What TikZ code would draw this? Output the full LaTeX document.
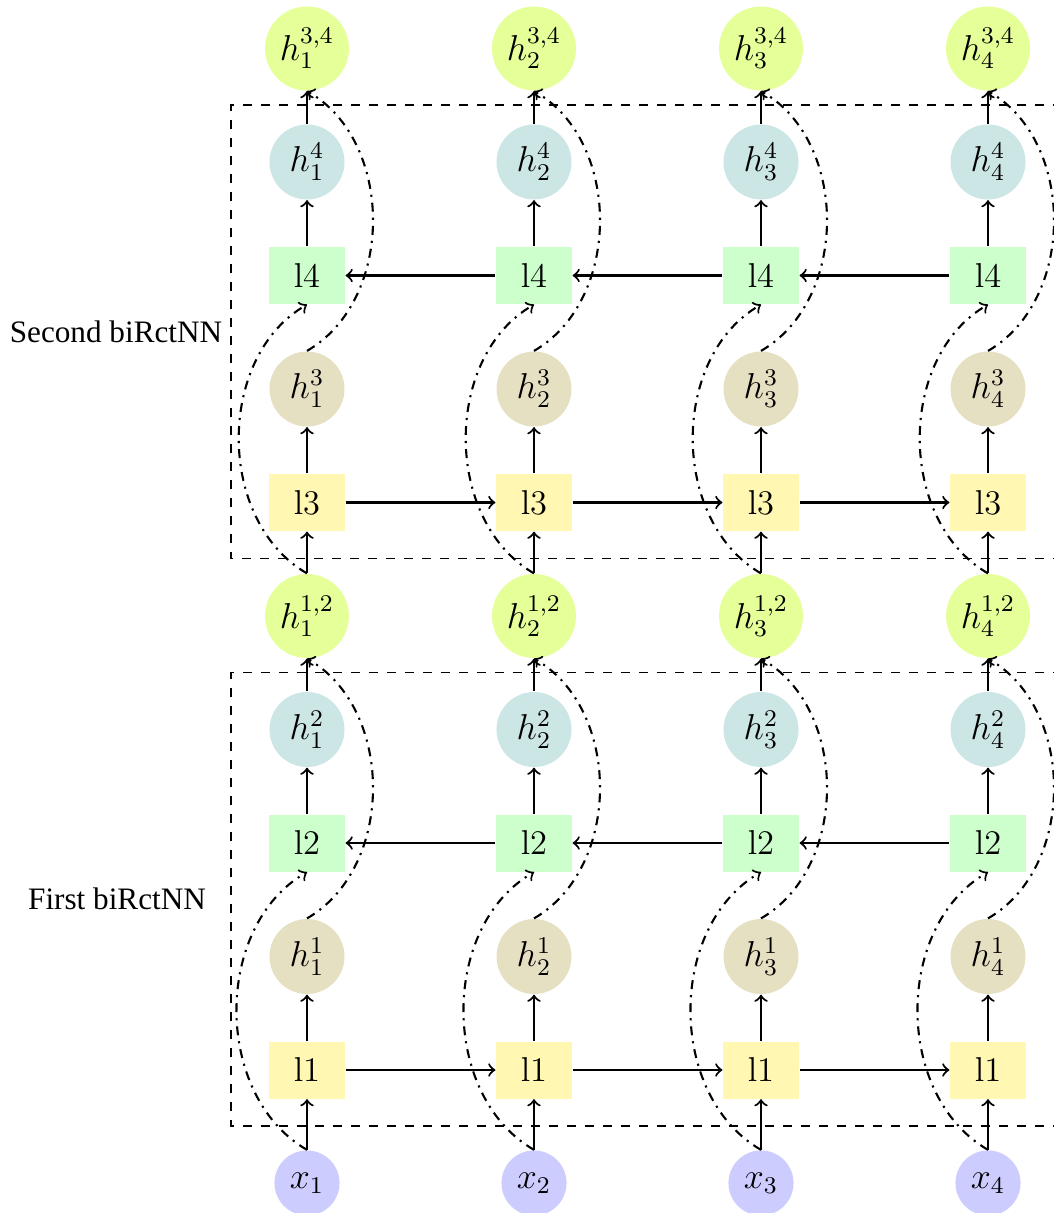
\documentclass[tikz,border=0pt]{standalone}
\usepackage{fontspec}
\newfontfamily\lblfont{Liberation Serif}
\definecolor{cHH}{RGB}{229,255,153}
\definecolor{cHB}{RGB}{204,229,229}
\definecolor{cHC}{RGB}{230,224,194}
\definecolor{cLG}{RGB}{204,255,204}
\definecolor{cLY}{RGB}{255,247,178}
\definecolor{cX}{RGB}{204,204,255}
\begin{document}
\begin{tikzpicture}[x=0.3333pt,y=-0.3333pt,
  font=\fontsize{11.5}{13}\selectfont,
  hhnode/.style={circle, fill=cHH, minimum size=28pt, inner sep=0pt},
  hbnode/.style={circle, fill=cHB, minimum size=25pt, inner sep=0pt},
  hcnode/.style={circle, fill=cHC, minimum size=25pt, inner sep=0pt},
  lgbox/.style={rectangle, fill=cLG, minimum width=25.3pt, minimum height=19pt, inner sep=0pt},
  lybox/.style={rectangle, fill=cLY, minimum width=25.3pt, minimum height=19pt, inner sep=0pt},
  xnode/.style={circle, fill=cX, minimum size=21.7pt, inner sep=0pt},
  arr/.style={->, line width=0.7pt},
  dcurve/.style={->, line width=0.7pt, dashdotted},
  frame/.style={dashed, line width=0.4pt},
  lbl/.style={font={\fontsize{10.4}{12}\selectfont\lblfont}}]
\useasboundingbox (0,0) rectangle (1054,1213);
% dashed frames
\draw[frame] (1080,105) -- (231,105) -- (231,558.7) -- (1080,558.7);
\draw[frame] (1080,672.7) -- (231,672.7) -- (231,1126) -- (1080,1126);
% nodes
\foreach \i/\X in {1/307,2/534,3/761,4/988}{
  \node[hhnode] (hh34-\i) at (\X,48.5) {$h_{\i}^{3,4}$};
  \node[hbnode] (h4-\i) at (\X,162) {$h_{\i}^{4}$};
  \node[lgbox] (l4-\i) at (\X,275.5) {l4};
  \node[hcnode] (h3-\i) at (\X,389) {$h_{\i}^{3}$};
  \node[lybox] (l3-\i) at (\X,502.5) {l3};
  \node[hhnode] (hh12-\i) at (\X,616) {$h_{\i}^{1,2}$};
  \node[hbnode] (h2-\i) at (\X,729.5) {$h_{\i}^{2}$};
  \node[lgbox] (l2-\i) at (\X,843) {l2};
  \node[hcnode] (h1-\i) at (\X,956.5) {$h_{\i}^{1}$};
  \node[lybox] (l1-\i) at (\X,1070) {l1};
  \node[xnode] (x-\i) at (\X,1183) {$x_{\i}$};
}
% labels
\node[lbl] (lab2) at (116,332) {Second biRctNN};
\node[lbl] (lab1) at (117,899) {First biRctNN};
% vertical arrows and curves
\foreach \i in {1,...,4}{
  \draw[arr] (x-\i) -- (l1-\i);
  \draw[arr] (l1-\i) -- (h1-\i);
  \draw[arr] (l2-\i) -- (h2-\i);
  \draw[arr] (h2-\i) -- (hh12-\i);
  \draw[arr] (hh12-\i) -- (l3-\i);
  \draw[arr] (l3-\i) -- (h3-\i);
  \draw[arr] (l4-\i) -- (h4-\i);
  \draw[arr] (h4-\i) -- (hh34-\i);
  \draw[dcurve] (x-\i.north) to[bend left=60] (l2-\i.south);
  \draw[dcurve] (h1-\i.north) to[bend right=60] (hh12-\i.south);
  \draw[dcurve] (hh12-\i.north) to[bend left=60] (l4-\i.south);
  \draw[dcurve] (h3-\i.north) to[bend right=60] (hh34-\i.south);
}
% horizontal arrows
\foreach \i/\j in {1/2,2/3,3/4}{
  \draw[arr] (l1-\i) -- (l1-\j);
  \draw[arr] (l3-\i) -- (l3-\j);
  \draw[arr] (l2-\j) -- (l2-\i);
  \draw[arr] (l4-\j) -- (l4-\i);
}
\end{tikzpicture}
\end{document}
